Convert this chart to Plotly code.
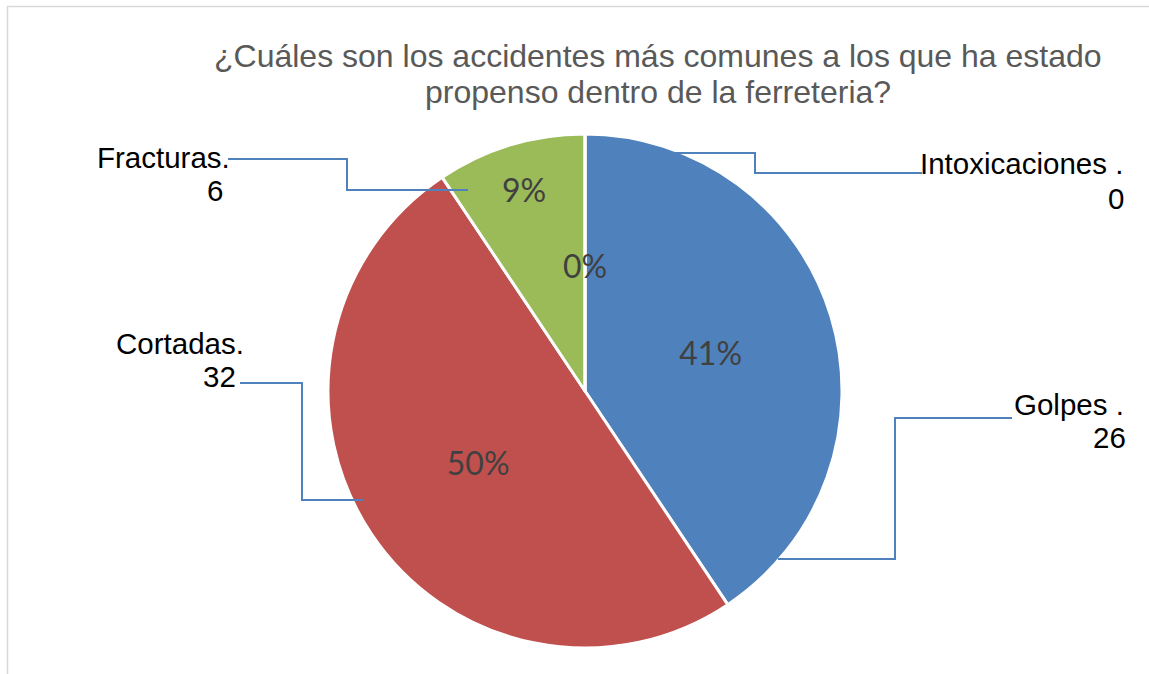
import math
import plotly.graph_objects as go

# ---- data ----
categories = ["Golpes ", "Cortadas", "Fracturas", "Intoxicaciones "]
values = [26, 32, 6, 0]
colors = ["#4F81BD", "#C0504D", "#9BBB59", "#8064A2"]
title_lines = ["¿Cuáles son los accidentes más comunes a los que ha estado",
               "propenso dentro de la ferreteria?"]

W, H = 1149, 674


def px(x, y):
    return x / W, 1 - y / H


total = sum(values)
pct = [f"{round(v / total * 100):.0f}%" for v in values]

cx, cy, r = 585, 391, 257
x0, _ = px(cx - r, 0)
x1, _ = px(cx + r, 0)
_, y1 = px(0, cy - r)
_, y0 = px(0, cy + r)

# label radial placement (fraction of radius) per slice; None = library placement
label_radius = [None, None, 0.82, 0.49]
inside_text = [p if f is None else "" for p, f in zip(pct, label_radius)]

fig = go.Figure()
fig.add_trace(go.Pie(
    labels=categories, values=values, sort=False, direction="clockwise",
    rotation=0,
    marker=dict(colors=colors, line=dict(color="white", width=3)),
    text=inside_text, textinfo="text", textposition="inside",
    insidetextorientation="horizontal",
    textfont=dict(family="Lato", size=32, color="#404040"),
    domain=dict(x=[x0, x1], y=[y0, y1]),
    showlegend=False, hoverinfo="label+value+percent",
))

annotations = []
# title
for line, ymid in zip(title_lines, [56, 92]):
    x, y = px(658, ymid)
    annotations.append(dict(x=x, y=y, xref="paper", yref="paper", text=line,
                            showarrow=False, xanchor="center", yanchor="middle",
                            font=dict(family="Liberation Sans, Arial", size=32, color="#595959")))

# outside category labels (name line, value line): right edge x, middle y
label_pos = {
    "Golpes ": ((1126, 404), (1128, 437)),
    "Cortadas": ((246, 343), (238, 376)),
    "Fracturas": ((232, 157), (225, 190)),
    "Intoxicaciones ": ((1125, 164), (1126, 199)),
}
for c, v in zip(categories, values):
    (nx, ny), (vx, vy) = label_pos[c]
    for txt, xx, yy in [(c + ".", nx, ny), (str(v), vx, vy)]:
        x, y = px(xx, yy)
        annotations.append(dict(x=x, y=y, xref="paper", yref="paper", text=txt,
                                showarrow=False, xanchor="right", yanchor="middle",
                                font=dict(family="Liberation Sans, Arial", size=29.5, color="#000000")))

# percentage labels for slices placed by explicit radial fraction
cum = 0
for v, p, f in zip(values, pct, label_radius):
    mid = (cum + v / 2) / total * 2 * math.pi
    cum += v
    if f is None:
        continue
    lx = cx + f * r * math.sin(mid)
    ly = cy - f * r * math.cos(mid)
    x, y = px(lx, ly)
    annotations.append(dict(x=x, y=y, xref="paper", yref="paper", text=p,
                            showarrow=False, xanchor="center", yanchor="middle",
                            font=dict(family="Lato", size=32, color="#404040")))

# leader lines
leaders = [
    [(228, 159), (347, 159), (347, 190), (468, 190)],
    [(588, 153), (755, 153), (755, 173), (922, 173)],
    [(1012, 418), (895, 418), (895, 559), (778, 559)],
    [(240, 383), (302, 383), (302, 500), (363, 500)],
]
shapes = []
for pts in leaders:
    p = [px(*q) for q in pts]
    path = "M " + " L ".join(f"{a:.5f},{b:.5f}" for a, b in p)
    shapes.append(dict(type="path", xref="paper", yref="paper", path=path,
                       line=dict(color="#4F81BD", width=2)))

# chart frame
fx0, fy1 = px(7.5, 6.5)
shapes.append(dict(type="rect", xref="paper", yref="paper", x0=fx0, y0=-0.5, x1=1.5, y1=fy1,
                   line=dict(color="#D9D9D9", width=1.5), fillcolor="rgba(0,0,0,0)", layer="below"))

fig.update_layout(
    width=W, height=H, margin=dict(l=0, r=0, t=0, b=0),
    paper_bgcolor="white", plot_bgcolor="white",
    annotations=annotations, shapes=shapes,
)
fig.write_html("out.html", config={"displayModeBar": False},
               post_script="document.body.style.margin='0';document.body.style.overflow='hidden';")
